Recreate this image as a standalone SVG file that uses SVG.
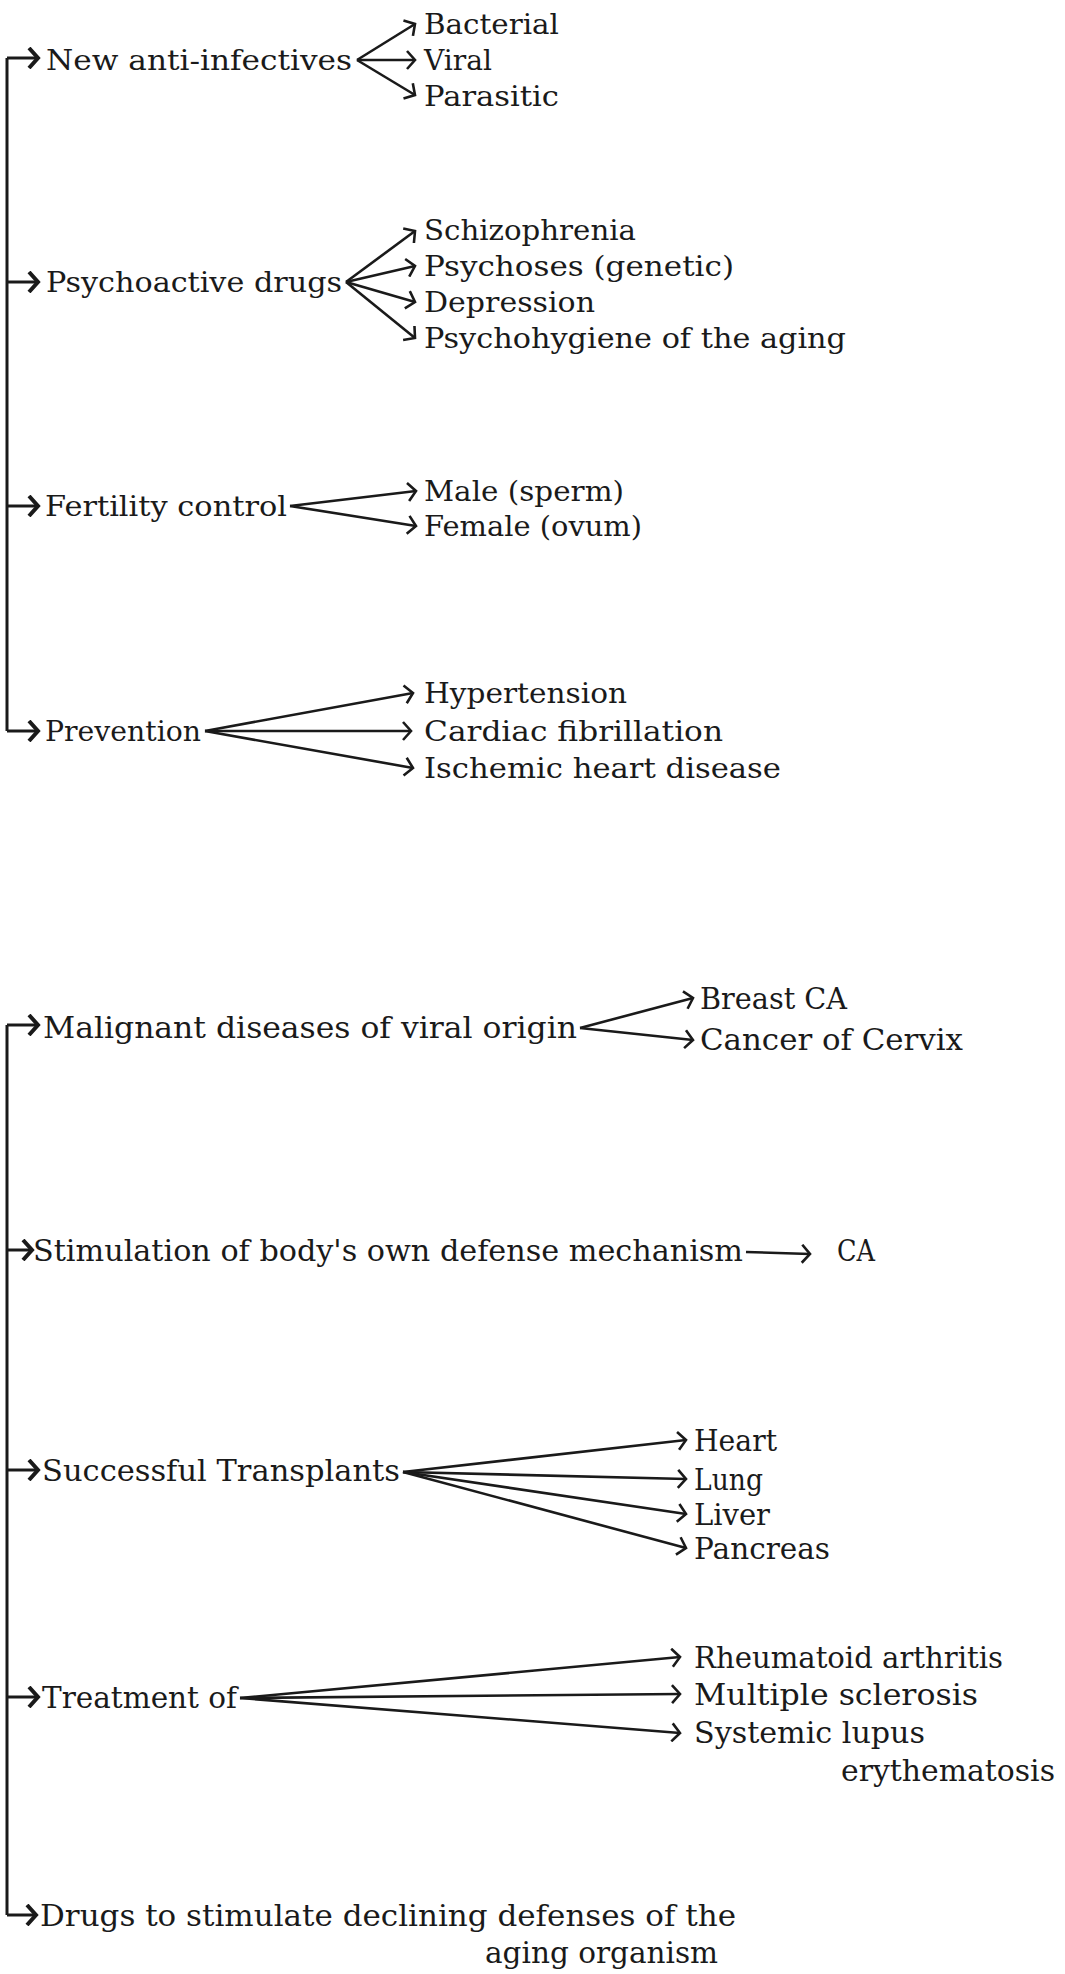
<svg xmlns="http://www.w3.org/2000/svg" width="1065" height="1974" viewBox="0 0 1065 1974">
<style>
.t{font-family:"DejaVu Serif","Liberation Serif",serif;font-size:27px;fill:#1a1a1a}
.b{font-family:"DejaVu Serif","Liberation Serif",serif;font-size:30px;fill:#1a1a1a}
.c{stroke:#1a1a1a;stroke-width:2.6;fill:none;marker-end:url(#ah)}
.l{stroke:#1a1a1a;stroke-width:3;fill:none;marker-end:url(#ahb)}
.v{stroke:#1a1a1a;stroke-width:3;fill:none}
</style>
<defs>
<marker id="ah" viewBox="0 0 14 20" refX="11" refY="10" markerWidth="14" markerHeight="20" markerUnits="userSpaceOnUse" orient="auto">
<path d="M3,1 L11,10 L3,19" fill="none" stroke="#1a1a1a" stroke-width="2.6"/>
</marker>
<marker id="ahb" viewBox="0 0 16 22" refX="12" refY="11" markerWidth="16" markerHeight="22" markerUnits="userSpaceOnUse" orient="auto">
<path d="M3,1 L12,11 L3,21" fill="none" stroke="#1a1a1a" stroke-width="4"/>
</marker>
</defs>
<rect width="1065" height="1974" fill="#fff"/>
<g id="connectors">
<path class="v" d="M7,58 L7,731"/>
<path class="l" d="M7,58 L38,58"/>
<path class="l" d="M7,282 L38,282"/>
<path class="l" d="M7,506 L38,506"/>
<path class="l" d="M7,731 L38,731"/>
<path class="c" d="M357,60 L415,24"/>
<path class="c" d="M357,60 L415,60"/>
<path class="c" d="M357,60 L415,95"/>
<path class="c" d="M346,282 L415,231"/>
<path class="c" d="M346,282 L415,266"/>
<path class="c" d="M346,282 L415,302"/>
<path class="c" d="M346,282 L415,338"/>
<path class="c" d="M290,506 L416,491"/>
<path class="c" d="M290,506 L416,526"/>
<path class="c" d="M205,731 L413,693"/>
<path class="c" d="M205,731 L411,731"/>
<path class="c" d="M205,731 L413,768"/>
<path class="v" d="M7,1025 L7,1915"/>
<path class="l" d="M7,1025 L38,1025"/>
<path class="l" d="M7,1250 L32,1250"/>
<path class="l" d="M7,1470 L38,1470"/>
<path class="l" d="M7,1697 L38,1697"/>
<path class="l" d="M7,1915 L36,1915"/>
<path class="c" d="M580,1028 L693,998"/>
<path class="c" d="M580,1028 L693,1040"/>
<path class="c" d="M746,1252 L810,1254"/>
<path class="c" d="M403,1472 L686,1440"/>
<path class="c" d="M403,1472 L686,1479"/>
<path class="c" d="M403,1472 L686,1514"/>
<path class="c" d="M403,1472 L686,1548"/>
<path class="c" d="M240,1698 L680,1657"/>
<path class="c" d="M240,1698 L680,1694"/>
<path class="c" d="M240,1698 L680,1733"/>
</g>
<g id="new-anti-infectives"><text class="t" x="46" y="70" textLength="306" lengthAdjust="spacingAndGlyphs">New anti-infectives</text></g>
<g id="bacterial"><text class="t" x="424" y="34" textLength="135" lengthAdjust="spacingAndGlyphs">Bacterial</text></g>
<g id="viral"><text class="t" x="424" y="70" textLength="68" lengthAdjust="spacingAndGlyphs">Viral</text></g>
<g id="parasitic"><text class="t" x="424" y="106" textLength="135" lengthAdjust="spacingAndGlyphs">Parasitic</text></g>
<g id="psychoactive-drugs"><text class="t" x="46" y="292" textLength="296" lengthAdjust="spacingAndGlyphs">Psychoactive drugs</text></g>
<g id="schizophrenia"><text class="t" x="424" y="240" textLength="212" lengthAdjust="spacingAndGlyphs">Schizophrenia</text></g>
<g id="psychoses"><text class="t" x="424" y="276" textLength="310" lengthAdjust="spacingAndGlyphs">Psychoses (genetic)</text></g>
<g id="depression"><text class="t" x="424" y="312" textLength="171" lengthAdjust="spacingAndGlyphs">Depression</text></g>
<g id="psychohygiene"><text class="t" x="424" y="348" textLength="422" lengthAdjust="spacingAndGlyphs">Psychohygiene of the aging</text></g>
<g id="fertility-control"><text class="t" x="45" y="516" textLength="242" lengthAdjust="spacingAndGlyphs">Fertility control</text></g>
<g id="male"><text class="t" x="424" y="501" textLength="200" lengthAdjust="spacingAndGlyphs">Male (sperm)</text></g>
<g id="female"><text class="t" x="424" y="536" textLength="218" lengthAdjust="spacingAndGlyphs">Female (ovum)</text></g>
<g id="prevention"><text class="t" x="45" y="741" textLength="156" lengthAdjust="spacingAndGlyphs">Prevention</text></g>
<g id="hypertension"><text class="t" x="424" y="703" textLength="203" lengthAdjust="spacingAndGlyphs">Hypertension</text></g>
<g id="cardiac-fibrillation"><text class="t" x="424" y="741" textLength="299" lengthAdjust="spacingAndGlyphs">Cardiac fibrillation</text></g>
<g id="ischemic-heart-disease"><text class="t" x="424" y="778" textLength="357" lengthAdjust="spacingAndGlyphs">Ischemic heart disease</text></g>
<g id="malignant-diseases"><text class="b" x="43" y="1038" textLength="534" lengthAdjust="spacingAndGlyphs">Malignant diseases of viral origin</text></g>
<g id="breast-ca"><text class="b" x="700" y="1009" textLength="147" lengthAdjust="spacingAndGlyphs">Breast CA</text></g>
<g id="cancer-of-cervix"><text class="b" x="700" y="1050" textLength="263" lengthAdjust="spacingAndGlyphs">Cancer of Cervix</text></g>
<g id="stimulation"><text class="b" x="33" y="1261" textLength="710" lengthAdjust="spacingAndGlyphs">Stimulation of body's own defense mechanism</text></g>
<g id="ca"><text class="b" x="837" y="1261" textLength="38" lengthAdjust="spacingAndGlyphs">CA</text></g>
<g id="successful-transplants"><text class="b" x="42" y="1481" textLength="358" lengthAdjust="spacingAndGlyphs">Successful Transplants</text></g>
<g id="heart"><text class="b" x="694" y="1451" textLength="83" lengthAdjust="spacingAndGlyphs">Heart</text></g>
<g id="lung"><text class="b" x="694" y="1490" textLength="69" lengthAdjust="spacingAndGlyphs">Lung</text></g>
<g id="liver"><text class="b" x="694" y="1525" textLength="76" lengthAdjust="spacingAndGlyphs">Liver</text></g>
<g id="pancreas"><text class="b" x="694" y="1559" textLength="136" lengthAdjust="spacingAndGlyphs">Pancreas</text></g>
<g id="treatment-of"><text class="b" x="42" y="1708" textLength="195" lengthAdjust="spacingAndGlyphs">Treatment of</text></g>
<g id="rheumatoid-arthritis"><text class="b" x="694" y="1668" textLength="309" lengthAdjust="spacingAndGlyphs">Rheumatoid arthritis</text></g>
<g id="multiple-sclerosis"><text class="b" x="694" y="1705" textLength="284" lengthAdjust="spacingAndGlyphs">Multiple sclerosis</text></g>
<g id="systemic-lupus"><text class="b" x="694" y="1743" textLength="231" lengthAdjust="spacingAndGlyphs">Systemic lupus</text>
<text class="b" x="841" y="1781" textLength="214" lengthAdjust="spacingAndGlyphs">erythematosis</text></g>
<g id="drugs-aging"><text class="b" x="40" y="1926" textLength="696" lengthAdjust="spacingAndGlyphs">Drugs to stimulate declining defenses of the</text>
<text class="b" x="485" y="1963" textLength="233" lengthAdjust="spacingAndGlyphs">aging organism</text></g>
</svg>
